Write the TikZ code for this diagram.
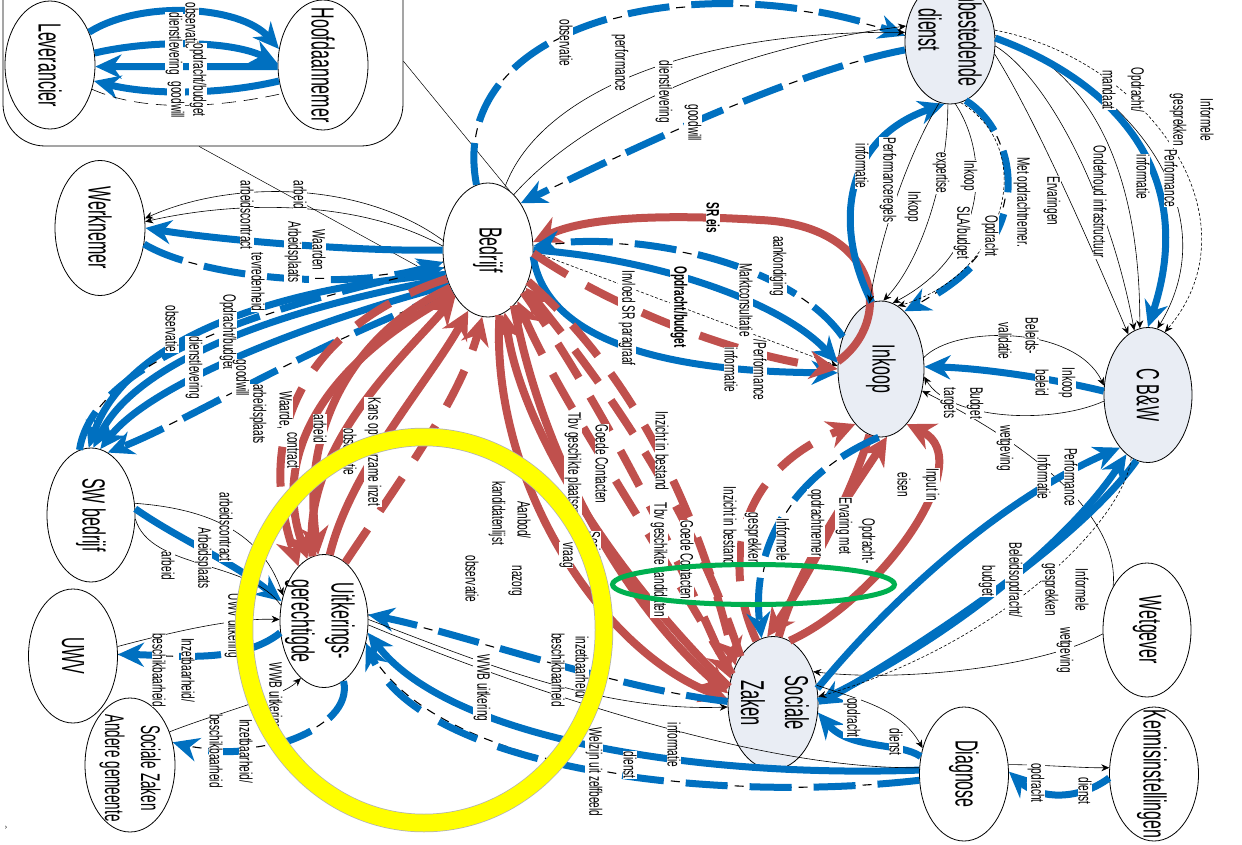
\documentclass[tikz,border=0pt]{standalone}
\usepackage{fontspec}
\setmainfont{Liberation Sans}
\newfontfamily\nodef[FakeStretch=0.5]{Liberation Sans}
\newfontfamily\labf[FakeStretch=0.56]{Liberation Sans}
\usetikzlibrary{shapes.geometric,arrows.meta}
\definecolor{blueC}{HTML}{0070C0}
\definecolor{redC}{HTML}{C0504D}
\definecolor{nfill}{HTML}{E9EDF4}
\definecolor{yellowC}{HTML}{FFFF00}
\definecolor{greenC}{HTML}{00B050}
\tikzset{
 ell/.style={ellipse, draw=black, line width=0.8pt, fill=white, inner sep=0pt},
 ellf/.style={ell, fill=nfill},
 nt/.style={rotate=-90, font=\nodef\fontsize{32}{40}\selectfont, align=center, inner sep=0pt},
 lb/.style={rotate=-90, font=\labf\fontsize{18}{19}\selectfont, fill=white, inner sep=0.5pt},
 lbb/.style={lb, font=\labf\bfseries\fontsize{18}{19}\selectfont},
 bl/.style={draw=blueC, line width=7pt, -{Stealth[length=26pt,width=24pt]}},
 bld/.style={bl, dash pattern=on 42pt off 22pt, preaction={draw=black, line width=1.1pt, -, dash pattern=on 9pt off 7pt}},
 rd/.style={draw=redC, line width=8pt, -{Stealth[length=28pt,width=28pt]}},
 rdd/.style={rd, dash pattern=on 40pt off 22pt},
 th/.style={draw=black, line width=0.6pt, -{Stealth[length=8pt,width=7pt]}},
 thd/.style={th, dash pattern=on 3pt off 2pt},
 thinln/.style={draw=black, line width=0.6pt},
}
\begin{document}
\begin{tikzpicture}[x=1pt,y=-1pt]
\useasboundingbox (0,0) rectangle (1242,845);
% container
\node[draw=black, line width=0.8pt, rounded corners=42pt, minimum width=400pt, minimum height=226pt, inner sep=0pt] (cont) at (203,33) {};
% nodes
\node[ell, minimum width=90pt, minimum height=128pt] (lev) at (50,65) {};
\node[ell, minimum width=90pt, minimum height=130pt] (hoofd) at (323,65) {};
\node[ell, minimum width=90pt, minimum height=135pt] (werk) at (100,228) {};
\node[ell, minimum width=90pt, minimum height=134pt] (bedr) at (488,250) {};
\node[ellf, minimum width=90pt, minimum height=124pt] (aanb) at (950,42) {};
\node[ellf, minimum width=86pt, minimum height=136pt] (inkoop) at (881,369) {};
\node[ellf, minimum width=88pt, minimum height=135pt] (cbw) at (1148,395) {};
\node[ell, minimum width=88pt, minimum height=134pt] (sw) at (91,515) {};
\node[ell, minimum width=89pt, minimum height=134pt] (uwv) at (73,656) {};
\node[ell, minimum width=90pt, minimum height=134pt] (szag) at (130,765) {};
\node[ell, minimum width=88pt, minimum height=133pt] (uitk) at (324,621) {};
\node[ellf, minimum width=90pt, minimum height=133pt] (sz) at (773,703) {};
\node[ell, minimum width=88pt, minimum height=134pt] (wetg) at (1147,630) {};
\node[ell, minimum width=89pt, minimum height=134pt] (diag) at (964,774) {};
\node[ell, minimum width=89pt, minimum height=134pt] (kenn) at (1154,774) {};

% A: Leverancier - Hoofdaannemer
\draw[bl] (lev.40) .. controls (140,0) and (240,5) .. (hoofd.160);
\draw[bl] (lev.15) .. controls (150,40) and (230,40) .. (hoofd.178);
\draw[bl] (hoofd.182) -- (lev.-2);
\draw[bl] (hoofd.200) .. controls (220,95) and (150,95) .. (lev.-20);
\draw[thinln, dash pattern=on 14pt off 8pt] (lev.-30) .. controls (150,115) and (230,105) .. (hoofd.215);
% B: container - Bedrijf
\draw[thinln, line width=0.5pt] (cont.-8) -- (bedr.70);
\draw[thinln, line width=0.5pt] (cont.-92) -- (bedr.-140);
% C: Bedrijf - Aanbestedende dienst
\draw[bld] (bedr.100) .. controls (445,20) and (700,-35) .. (aanb.172);
\draw[th] (bedr.75) .. controls (540,90) and (700,30) .. (aanb.168);
\draw[th] (bedr.65) .. controls (580,120) and (720,50) .. (aanb.160);
\draw[bld] (aanb.-170) .. controls (800,70) and (650,140) .. (bedr.55);
% D: Bedrijf - Werknemer
\draw[th] (bedr.168) .. controls (360,180) and (230,180) .. (werk.12);
\draw[th] (bedr.175) .. controls (360,200) and (240,200) .. (werk.8);
\draw[bl] (bedr.180) .. controls (360,252) and (220,240) .. (werk.0);
\draw[bld] (werk.-20) .. controls (200,278) and (350,292) .. (bedr.-165);
% E: Bedrijf - SW bedrijf
\draw[bl] (bedr.-150) .. controls (300,285) and (130,330) .. (sw.92);
\draw[bl] (bedr.-145) .. controls (300,305) and (140,355) .. (sw.88);
\draw[bl] (bedr.-138) .. controls (300,325) and (150,385) .. (sw.82);
\draw[bld] (bedr.-130) .. controls (300,350) and (190,420) .. (sw.75);
\draw[bld] (sw.100) .. controls (90,380) and (200,320) .. (bedr.-158);
% F: Bedrijf - Inkoop
\draw[rd] (inkoop.170) .. controls (895,320) and (880,225) .. (760,220) .. controls (680,215) and (590,215) .. (bedr.10);
\draw[bld] (inkoop.140) .. controls (790,262) and (640,232) .. (bedr.5);
\draw[bl] (bedr.0) .. controls (650,258) and (780,300) .. (inkoop.172);
\draw[bl] (bedr.-8) .. controls (545,335) and (650,372) .. (inkoop.185);
\draw[thd] (bedr.-2) -- (inkoop.176);
\draw[rdd] (bedr.-4) .. controls (600,300) and (720,352) .. (inkoop.180);
% G: Aanbestedende dienst - Inkoop / C B&W
\draw[bl] (inkoop.98) .. controls (835,230) and (840,140) .. (aanb.-95);
\draw[bld] (aanb.-75) .. controls (1015,130) and (1045,240) .. (inkoop.68);
\draw[th] (aanb.-100) .. controls (905,160) and (880,240) .. (inkoop.100);
\draw[th] (aanb.-92) .. controls (948,180) and (920,262) .. (inkoop.88);
\draw[th] (aanb.-85) .. controls (992,160) and (985,255) .. (inkoop.80);
\draw[thd] (aanb.-80) .. controls (1040,150) and (1005,275) .. (inkoop.75);
\draw[th] (aanb.-5) .. controls (1050,80) and (1110,200) .. (cbw.102);
\draw[th] (aanb.-15) .. controls (1030,110) and (1080,220) .. (cbw.108);
\draw[th] (aanb.8) .. controls (1070,60) and (1140,140) .. (cbw.97);
\draw[thd] (aanb.15) .. controls (1150,60) and (1260,220) .. (cbw.75);
\draw[th] (aanb.3) .. controls (1110,70) and (1235,200) .. (cbw.82);
\draw[bl] (aanb.5) .. controls (1110,80) and (1200,170) .. (cbw.90);
% H: C B&W - Inkoop, Wetgever
\draw[bl] (cbw.175) .. controls (1050,378) and (980,368) .. (inkoop.3);
\draw[th] (inkoop.15) .. controls (955,325) and (1075,325) .. (cbw.168);
\draw[th] (cbw.188) .. controls (1050,425) and (950,420) .. (inkoop.-10);
\draw[th] (wetg.128) .. controls (1120,520) and (1040,450) .. (inkoop.-28);
\draw[th] (wetg.185) .. controls (1040,668) and (900,682) .. (sz.38);
% I: C B&W - Sociale Zaken
\draw[bl] (sz.18) .. controls (890,600) and (1000,500) .. (cbw.-118);
\draw[bl] (sz.2) .. controls (950,640) and (1070,540) .. (cbw.-110);
\draw[bl] (cbw.-100) .. controls (1080,540) and (930,640) .. (sz.-2);
\draw[thd] (cbw.-105) .. controls (1125,520) and (1000,645) .. (sz.8);
% J: Inkoop - Sociale Zaken
\draw[rd] (sz.75) .. controls (880,600) and (980,460) .. (inkoop.-65);
\draw[rd] (sz.85) .. controls (800,560) and (860,480) .. (inkoop.-85);
\draw[rd] (inkoop.-100) .. controls (850,500) and (800,590) .. (sz.95);
\draw[rdd] (sz.105) .. controls (720,560) and (740,470) .. (inkoop.-115);
\draw[bld] (inkoop.-92) .. controls (780,480) and (752,560) .. (sz.100);
% K: red fan
\draw[rd] (uitk.100) .. controls (300,450) and (400,360) .. (bedr.-125);
\draw[rd] (uitk.85) .. controls (350,470) and (430,380) .. (bedr.-108);
\draw[rdd] (uitk.70) .. controls (400,480) and (460,400) .. (bedr.-95);
\draw[rd] (bedr.-135) .. controls (360,330) and (300,420) .. (uitk.95);
\draw[rd] (bedr.-128) .. controls (330,360) and (270,450) .. (uitk.105);
\draw[rdd] (bedr.-145) .. controls (320,320) and (250,420) .. (uitk.115);
\draw[rd] (bedr.-65) .. controls (540,450) and (620,600) .. (sz.168);
\draw[rd] (bedr.-80) .. controls (490,480) and (600,650) .. (sz.175);
\draw[rdd] (bedr.-50) .. controls (600,400) and (680,560) .. (sz.150);
\draw[rdd] (bedr.-38) .. controls (640,380) and (700,520) .. (sz.135);
\draw[rd] (sz.160) .. controls (600,560) and (520,420) .. (bedr.-75);
\draw[rdd] (sz.145) .. controls (650,530) and (560,400) .. (bedr.-60);
\draw[rdd] (sz.125) .. controls (690,500) and (600,380) .. (bedr.-45);
% L: Sociale Zaken / Diagnose - Uitkeringsgerechtigde
\draw[bld] (sz.178) .. controls (620,690) and (450,630) .. (uitk.8);
\draw[bl] (diag.175) .. controls (700,778) and (450,740) .. (uitk.-15);
\draw[bld] (diag.188) .. controls (700,805) and (420,765) .. (uitk.-28);
\draw[thinln] (uitk.-5) .. controls (500,680) and (750,770) .. (diag.172);
\draw[th] (uitk.2) .. controls (480,662) and (600,712) .. (sz.-175);
% M: Uitkeringsgerechtigde - SW / UWV / Sociale Zaken andere gemeente
\draw[bl] (sw.8) .. controls (180,540) and (230,560) .. (uitk.155);
\draw[th] (sw.15) .. controls (200,508) and (260,528) .. (uitk.148);
\draw[thinln] (sw.-5) .. controls (150,570) and (250,560) .. (uitk.160);
\draw[th] (uwv.12) .. controls (180,630) and (235,618) .. (uitk.178);
\draw[bld] (uitk.-165) .. controls (240,665) and (170,655) .. (uwv.2);
\draw[bld] (uitk.-72) .. controls (355,730) and (250,765) .. (szag.28);
\draw[th] (szag.40) .. controls (220,712) and (280,698) .. (uitk.-112);
% N: Sociale Zaken - Diagnose - Kennisinstellingen
\draw[th] (sz.22) .. controls (860,700) and (900,708) .. (diag.148);
\draw[bl] (diag.158) .. controls (900,742) and (850,750) .. (sz.-12);
\draw[bl] (kenn.185) .. controls (1080,800) and (1040,800) .. (diag.3);
\draw[th] (diag.12) .. controls (1050,765) and (1080,768) .. (kenn.172);

% labels
\node[lb] (t1) at (192,26) {observatie};
\node[lb] (t2) at (198,80) {opdracht/budget};
\node[lb] (t3) at (174,44) {dienstlevering};
\node[lb] (t4) at (176,100) {goodwill};
\node[lb] (t5) at (566,43) {observatie};
\node[lb] (t6) at (620,63) {performance};
\node[lb] (t7) at (664,92) {dienstlevering};
\node[lb] (t8) at (693,123) {goodwill};
\node[lb] (t9) at (300,195) {arbeid};
\node[lb] (t10) at (247,215) {arbeidscontract};
\node[lb] (t11) at (258,282) {tevredenheid};
\node[lb] (t12) at (293,252) {Arbeidsplaats};
\node[lb] (t13) at (319,250) {Waarden};
\node[lb] (t14) at (228,332) {Opdracht/budget};
\node[lb] (t15) at (241,378) {goodwill};
\node[lb] (t16) at (258,414) {arbeidsplaats};
\node[lb] (t17) at (172,329) {observatie};
\node[lb] (t18) at (194,368) {dienstlevering};
\node[lb] (t19) at (285,410) {Waarde,};
\node[lb] (t20) at (293,450) {contract};
\node[lb] (t21) at (320,429) {arbeid};
\node[lb] (t22) at (373,452) {Kans op duurzame inzet};
\node[lb] (t23) at (350,452) {observatie};
\node[lbb] (t24) at (713,218) {SR eis};
\node[lb] (t25) at (778,266) {aankondiging};
\node[lb] (t26) at (746,300) {Marktconsultatie};
\node[lbb] (t27) at (679,307) {Opdracht/budget};
\node[lb] (t28) at (627,318) {Invloed SR paragraaf};
\node[lb] (t29) at (760,370) {/Performance};
\node[lb] (t30) at (731,370) {informatie};
\node[lb] (t31) at (888,180) {Performanceregels};
\node[lb] (t32) at (862,166) {informatie};
\node[lb] (t33) at (913,207) {Inkoop};
\node[lb] (t34) at (941,173) {expertise};
\node[lb] (t35) at (969,176) {Inkoop};
\node[lb] (t36) at (962,233) {SLA/budget};
\node[lb] (t37) at (990,236) {Opdracht};
\node[lb] (t38) at (1022,202) {Met opdrachtnemer.};
\node[lb] (t39) at (1052,201) {Ervaringen};
\node[lb] (t40) at (1100,202) {Onderhoud infrastructuur};
\node[lb] (t41) at (1143,177) {informatie};
\node[lb] (t42) at (1171,178) {Performance};
\node[lb] (t43) at (1178,120) {gesprekken};
\node[lb] (t44) at (1207,120) {Informele};
\node[lb] (t45) at (1136,90) {Opdracht/};
\node[lb] (t46) at (1109,90) {mandaat};
\node[lb] (t47) at (1032,336) {Beleids-};
\node[lb] (t48) at (1005,341) {validatie};
\node[lb] (t49) at (1067,383) {Inkoop};
\node[lb] (t50) at (1042,383) {beleid};
\node[lb] (t51) at (975,403) {Budget};
\node[lb] (t52) at (948,403) {targets};
\node[lb] (t53) at (1005,448) {wetgeving};
\node[lb] (t54) at (1071,477) {Performance};
\node[lb] (t55) at (1044,477) {Informatie};
\node[lb] (t56) at (1014,580) {Beleidsopdracht/};
\node[lb] (t57) at (987,581) {budget};
\node[lb] (t58) at (1082,590) {Informele};
\node[lb] (t59) at (1050,590) {gesprekken};
\node[lb] (t60) at (1065,650) {wetgeving};
\node[lb] (t61) at (931,485) {Input in};
\node[lb] (t62) at (904,485) {eisen};
\node[lb] (t63) at (867,541) {Opdracht-};
\node[lb] (t64) at (844,526) {Ervaring met};
\node[lb] (t65) at (816,523) {opdrachtnemer};
\node[lb] (t66) at (783,540) {Informele};
\node[lb] (t67) at (753,539) {gesprekken};
\node[lb] (t68) at (662,451) {Inzicht in bestand};
\node[lb] (t69) at (602,464) {Goede Contacten};
\node[lb] (t70) at (573,464) {Tbv geschikte plaatsen};
\node[lb] (t71) at (659,560) {Tbv geschikte kandidaten};
\node[lb] (t72) at (687,560) {Goede Contacten};
\node[lb] (t73) at (730,526) {Inzicht in bestand};
\node[lb] (t74) at (594,548) {Sociale};
\node[lb] (t75) at (566,555) {vraag};
\node[lb] (t76) at (524,520) {Aanbod/};
\node[lb] (t77) at (515,581) {nazorg};
\node[lb] (t78) at (497,513) {kandidatenlijst};
\node[lb] (t79) at (472,579) {observatie};
\node[lb] (t80) at (482,688) {WWB uitkering};
\node[lb] (t81) at (582,668) {inzetbaarheid/};
\node[lb] (t82) at (558,670) {beschikbaarheid};
\node[lb] (t83) at (594,772) {Welzijn uit zelfbeeld};
\node[lb] (t84) at (630,765) {dienst};
\node[lb] (t85) at (674,745) {informatie};
\node[lb] (t86) at (226,527) {arbeidscontract};
\node[lb] (t87) at (203,558) {Arbeidsplaats};
\node[lb] (t88) at (168,566) {arbeid};
\node[lb] (t89) at (233,626) {UWV uitkering};
\node[lb] (t90) at (188,670) {Inzetbaarheid/};
\node[lb] (t91) at (159,670) {beschikbaarheid};
\node[lb] (t92) at (274,696) {WWB uitkering};
\node[lb] (t93) at (246,751) {Inzetbaarheid/};
\node[lb] (t94) at (216,751) {beschikbaarheid};
\node[lb] (t95) at (852,718) {opdracht};
\node[lb] (t96) at (896,742) {dienst};
\node[lb] (t97) at (1036,783) {opdracht};
\node[lb] (t98) at (1085,791) {dienst};

% node texts
\node[nt] (levT) at (lev) {Leverancier};
\node[nt] (hoofdT) at (hoofd) {Hoofdaannemer};
\node[nt] (werkT) at (werk) {Werknemer};
\node[nt] (bedrT) at (bedr) {Bedrijf};
\node[nt] (aanbT) at (950,30) {Aanbestedende\\dienst};
\node[nt] (inkoopT) at (inkoop) {Inkoop};
\node[nt] (cbwT) at (cbw) {C B\&W};
\node[nt] (swT) at (sw) {SW bedrijf};
\node[nt] (uwvT) at (uwv) {UWV};
\node[nt, font=\nodef\fontsize{27}{36}\selectfont] (szagT) at (130,768) {Sociale Zaken\\Andere gemeente};
\node[nt] (uitkT) at (320,621) {Uitkerings-\\gerechtigde};
\node[nt, font=\nodef\fontsize{33}{44}\selectfont] (szT) at (775,703) {Sociale\\Zaken};
\node[nt] (wetgT) at (wetg) {Wetgever};
\node[nt] (diagT) at (diag) {Diagnose};
\node[nt] (kennT) at (1152,774) {Kennisinstellingen};
\node[font=\fontsize{7}{8}\selectfont, inner sep=0pt] (mark) at (6,828) {›};

% highlight rings
\draw[draw=gray!60, line width=18.5pt] (424,630) ellipse [x radius=180pt, y radius=193pt];
\draw[draw=yellowC, line width=17pt] (424,630) ellipse [x radius=180pt, y radius=193pt];
\draw[draw=greenC, line width=5pt] (753.5,584.5) ellipse [x radius=141pt, y radius=20pt];
\end{tikzpicture}
\end{document}
